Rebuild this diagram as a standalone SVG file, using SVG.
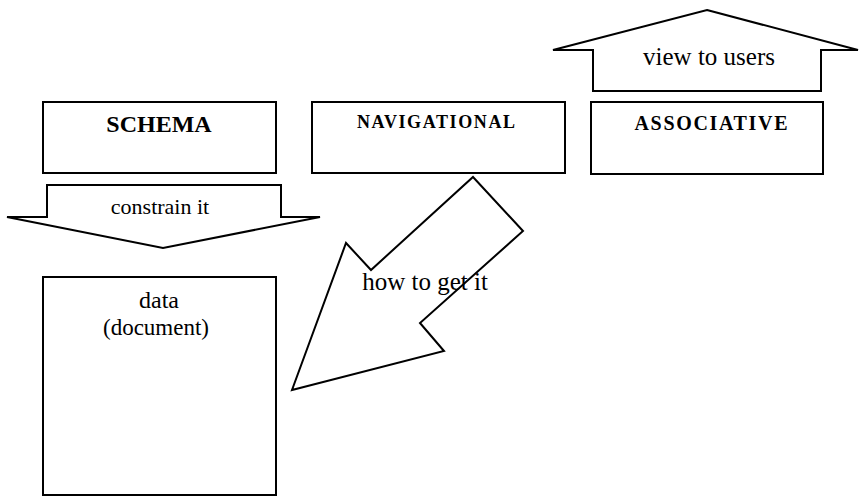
<svg xmlns="http://www.w3.org/2000/svg" width="860" height="497" viewBox="0 0 860 497">
<style>
.box{fill:#fff;stroke:#000;stroke-width:2}
.arr{fill:#fff;stroke:#000;stroke-width:2;stroke-linejoin:miter}
.t{font-family:"Liberation Serif","Times New Roman",serif;fill:#000;text-anchor:middle}
.b{font-weight:bold}
</style>
<rect width="860" height="497" fill="#fff"/>
<g id="connectors">
<g id="arrow-constrain"><polygon class="arr" points="47,185 281,185 281,217 320,217 163,248 7,217 47,217"/>
<text class="t" x="160" y="214" font-size="22">constrain it</text></g>
<g id="arrow-view"><polygon class="arr" points="707,10 858,50 821,50 821,91 593,91 593,50 553,50"/>
<text class="t" x="709" y="65" font-size="25">view to users</text></g>
<g id="arrow-how"><polygon class="arr" points="473,177 523,231 420,323 444,351 292,390 346,243 371,270"/>
</g>
</g>
<g id="schema"><rect class="box" x="43" y="102" width="233" height="71"/>
<text class="t b" x="159" y="132" font-size="24">SCHEMA</text></g>
<g id="navigational"><rect class="box" x="312" y="102" width="253" height="71"/>
<text class="t b" x="436" y="128" font-size="18" textLength="158" lengthAdjust="spacing">NAVIGATIONAL</text></g>
<g id="associative"><rect class="box" x="591" y="102" width="232" height="72"/>
<text class="t b" x="711" y="130" font-size="20" textLength="153" lengthAdjust="spacing">ASSOCIATIVE</text></g>
<g id="data"><rect class="box" x="43" y="277" width="233" height="218"/>
<text class="t" x="159" y="308" font-size="24">data</text>
<text class="t" x="156" y="335" font-size="23">(document)</text></g>
<text class="t" x="425" y="290" font-size="25">how to get it</text>
</svg>
